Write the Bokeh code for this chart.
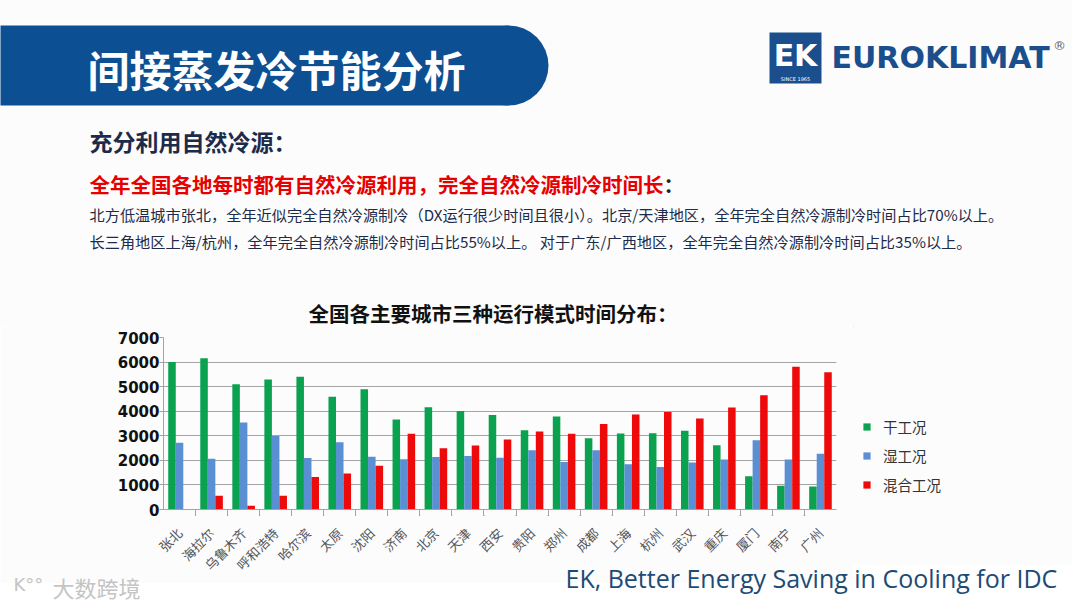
from bokeh.plotting import figure
from bokeh.layouts import column, row
from bokeh.models import (Legend, LegendItem, FactorRange, Range1d, CategoricalAxis,
                          FixedTicker, ColumnDataSource)
from bokeh.core.properties import value
from bokeh.transform import dodge
from bokeh.embed import file_html
from bokeh.resources import INLINE

# ---------------- data ----------------
cities = ["张北", "海拉尔", "乌鲁木齐", "呼和浩特", "哈尔滨", "太原", "沈阳", "济南", "北京", "天津",
          "西安", "贵阳", "郑州", "成都", "上海", "杭州", "武汉", "重庆", "厦门", "南宁", "广州"]
dry = [6000, 6160, 5100, 5290, 5400, 4590, 4890, 3660, 4160, 4010,
       3850, 3230, 3780, 2900, 3090, 3100, 3210, 2610, 1350, 970, 940]
wet = [2720, 2070, 3540, 2990, 2100, 2740, 2150, 2040, 2140, 2180,
       2110, 2410, 1930, 2410, 1840, 1730, 1910, 2030, 2820, 2030, 2270]
mixed = [0, 560, 150, 560, 1320, 1470, 1780, 3080, 2490, 2600,
         2850, 3170, 3080, 3480, 3870, 3970, 3700, 4150, 4650, 5810, 5590]
series_names = ["干工况", "湿工况", "混合工况"]
y_ticks = [0, 1000, 2000, 3000, 4000, 5000, 6000, 7000]
boundaries = [f"b{i}" for i in range(len(cities) + 1)]

GREEN = "#0aa24f"
BLUE = "#5b8fd4"
RED = "#ee0a0a"
NAVY = "#0d4f93"
LOGO = "#1a4e8c"
TXT = "#1d2b4a"
BG = "#fcfcfc"
CJK = "Noto Sans CJK SC"
W = 1072


def deco_fig(w, h, **kw):
    f = figure(width=w, height=h, x_range=Range1d(0, w), y_range=Range1d(h, 0),
               x_axis_location=None, y_axis_location=None, output_backend="svg",
               toolbar_location=None, min_border=0, frame_align=False, **kw)
    f.grid.visible = False
    f.outline_line_color = None
    f.background_fill_color = BG
    f.border_fill_color = BG
    return f


def txt(f, s, x, y, size, color, bold=False, font=CJK, align="left"):
    f.text(x=[x], y=[y], text=[s], text_font=value(font), text_font_size=f"{size}px",
           text_color=color, text_font_style="bold" if bold else "normal",
           text_align=align, text_baseline="middle")


# ---------------- top decoration (y 0..326) ----------------
TOP_H = 326
top = deco_fig(W, TOP_H)
top.quad(left=-10, right=508, top=25, bottom=105, fill_color=NAVY, line_color=None)
top.ellipse(x=508, y=65, width=80, height=80, fill_color=NAVY, line_color=None)
txt(top, "间接蒸发冷节能分析", 87, 68, 42, "#ffffff", bold=True)

top.quad(left=769, right=821, top=32, bottom=83, fill_color=LOGO, line_color=None)
txt(top, "EK", 795, 55, 30, "#ffffff", bold=True, font="DejaVu Sans", align="center")
txt(top, "SINCE 1965", 795, 78, 5, "#ffffff", font="DejaVu Sans", align="center")
txt(top, "EUROKLIMAT", 831, 57, 30, LOGO, bold=True, font="DejaVu Sans")
txt(top, "®", 1059, 45, 13, "#666666", font="DejaVu Sans", align="center")

txt(top, "充分利用自然冷源：", 89, 140, 23, TXT, bold=True)
txt(top, "全年全国各地每时都有自然冷源利用，完全自然冷源制冷时间长", 89, 183, 20.5, "#e60000", bold=True)
txt(top, "：", 663, 183, 20.5, "#222222", bold=True)
txt(top, "北方低温城市张北，全年近似完全自然冷源制冷（DX运行很少时间且很小）。北京/天津地区，全年完全自然冷源制冷时间占比70%以上。",
    89, 213, 15.2, TXT)
txt(top, "长三角地区上海/杭州，全年完全自然冷源制冷时间占比55%以上。 对于广东/广西地区，全年完全自然冷源制冷时间占比35%以上。",
    89, 240, 15.2, TXT)
txt(top, "全国各主要城市三种运行模式时间分布：", 308, 312, 20.5, "#111111", bold=True)

# ---------------- chart (from y 326) ----------------
p = figure(frame_width=673, frame_height=172, x_range=FactorRange(factors=cities),
           y_range=Range1d(0, 7000), x_axis_location=None, output_backend="svg",
           toolbar_location=None, frame_align=False,
           min_border_left=163, min_border_right=17, min_border_top=11, min_border_bottom=57)
p.background_fill_color = BG
p.border_fill_color = BG
p.outline_line_color = None
p.xgrid.grid_line_color = None
p.ygrid.grid_line_color = "#a4a4a4"
p.ygrid.grid_line_width = 1

yax = p.yaxis[0]
yax.ticker = FixedTicker(ticks=y_ticks)
yax.axis_line_color = "#a4a4a4"
yax.major_tick_line_color = "#a4a4a4"
yax.major_tick_out = 4
yax.major_tick_in = 0
yax.minor_tick_line_color = None
yax.major_label_standoff = 0
yax.major_label_text_font = "DejaVu Sans"
yax.major_label_text_font_style = "bold"
yax.major_label_text_font_size = "15px"
yax.major_label_text_color = "#111111"

# boundary tick axis: factor centres fall on the city boundaries
p.extra_x_ranges = {"bnd": FactorRange(factors=boundaries, range_padding=-0.5,
                                       range_padding_units="absolute")}
tick_axis = CategoricalAxis(x_range_name="bnd",
                            axis_line_color="#a4a4a4", major_tick_line_color="#a4a4a4",
                            major_tick_out=6, major_tick_in=0,
                            major_label_overrides={b: "" for b in boundaries},
                            major_label_standoff=0, major_label_text_font_size="1px")
p.add_layout(tick_axis, "below")
cat_axis = CategoricalAxis(axis_line_color=None, major_tick_line_color=None,
                           major_label_orientation=0.785398, major_label_standoff=5,
                           major_label_text_font=CJK, major_label_text_font_size="13px",
                           major_label_text_color="#555555")
p.add_layout(cat_axis, "below")

src = ColumnDataSource(dict(city=cities, dry=dry, wet=wet, mixed=mixed))
bw = 0.235
p.vbar(x=dodge("city", -bw, range=p.x_range), top="dry", width=bw, source=src,
       fill_color=GREEN, line_color=None)
p.vbar(x=dodge("city", 0, range=p.x_range), top="wet", width=bw, source=src,
       fill_color=BLUE, line_color=None)
p.vbar(x=dodge("city", bw, range=p.x_range), top="mixed", width=bw, source=src,
       fill_color=RED, line_color=None)

# ---------------- legend panel (x 853..1072) ----------------
LEG_W = W - (163 + 673 + 17)
leg = deco_fig(LEG_W, 240)
items = []
for name, col in zip(series_names, [GREEN, BLUE, RED]):
    # swatch renderer kept outside the visible range; only its legend glyph shows
    r = leg.vbar(x=[-100], top=[-100], bottom=[-120], width=5, fill_color=col, line_color=None)
    items.append(LegendItem(label=name, renderers=[r]))
legend = Legend(items=items, location=(9, 71), orientation="vertical",
                glyph_width=9, glyph_height=9, label_height=20, spacing=8, label_standoff=12,
                padding=0, margin=0, border_line_color=None, background_fill_alpha=0,
                label_text_font=CJK, label_text_font_size="14.5px", label_text_color="#333333")
leg.add_layout(legend)

# ---------------- bottom decoration (overlaps the axis-label border) ----------------
bot = deco_fig(W, 44, styles={"margin-top": "-22px"})
bot.background_fill_alpha = 0
bot.border_fill_alpha = 0
txt(bot, "EK, Better Energy Saving in Cooling for IDC", 565, 16, 25, "#1c4b75", font="Open Sans")
txt(bot, "大数跨境", 52, 25, 22, "#c4c4c4")
txt(bot, "K°°", 13, 23, 18, "#c4c4c4", font="DejaVu Sans")

layout = column(top, row(p, leg, spacing=0), bot, spacing=0)
open("out.html", "w").write(file_html(layout, INLINE))
